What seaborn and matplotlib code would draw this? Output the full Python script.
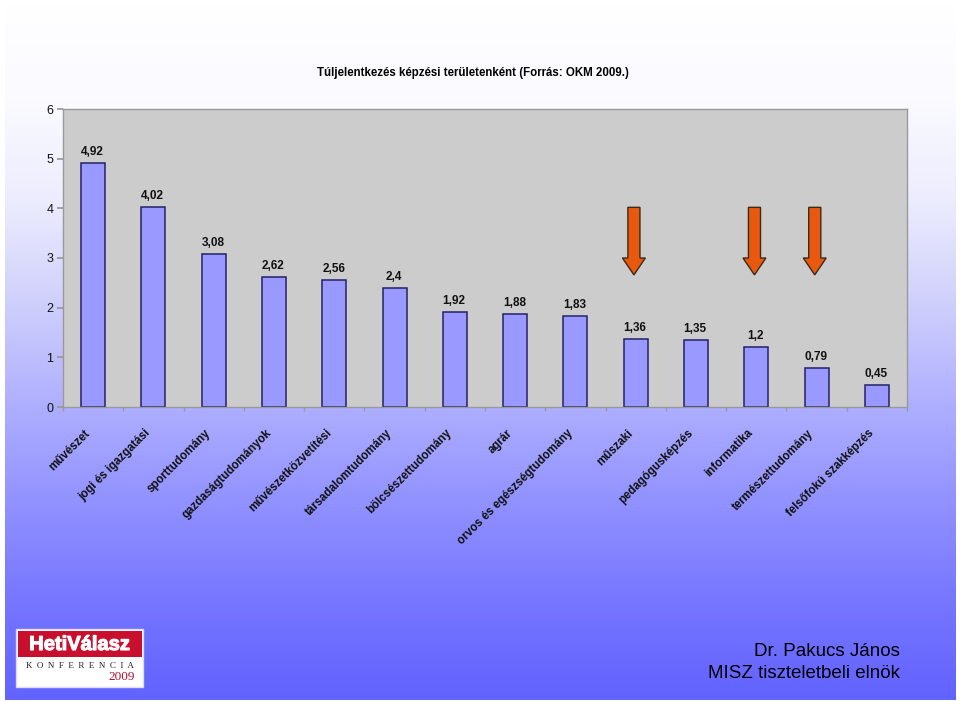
import numpy as np
import pandas as pd
import matplotlib
matplotlib.use("Agg")
import matplotlib.pyplot as plt
import matplotlib.patheffects as pe
from matplotlib.patches import Rectangle, FancyArrow
from matplotlib.transforms import ScaledTranslation
import seaborn as sns

categories = ["művészet", "jogi és igazgatási", "sporttudomány", "gazdaságtudományok",
              "művészetközvetítési", "társadalomtudomány", "bölcsészettudomány", "agrár",
              "orvos és egészségtudomány", "műszaki", "pedagógusképzés", "informatika",
              "természettudomány", "felsőfokú szakképzés"]
values = [4.92, 4.02, 3.08, 2.62, 2.56, 2.4, 1.92, 1.88, 1.83, 1.36, 1.35, 1.2, 0.79, 0.45]
labels = ["4,92", "4,02", "3,08", "2,62", "2,56", "2,4", "1,92", "1,88", "1,83",
          "1,36", "1,35", "1,2", "0,79", "0,45"]
arrow_cats = [9, 11, 12]
title = "Túljelentkezés képzési területenként (Forrás: OKM 2009.)"

sns.set_theme(style="white")
plt.rcParams['font.family'] = ['Liberation Sans', 'DejaVu Sans']

W, H = 960, 701
fig = plt.figure(figsize=(9.6, 7.01), dpi=100)
fig.patch.set_facecolor("white")


def fx(x):
    return x / W


def fy(y):
    return 1 - y / H


# background gradient panel
bg = fig.add_axes([fx(5), fy(700), fx(950), 695 / H], zorder=0)
ys = np.arange(5, 700)
stop_y = [5, 100, 200, 300, 400, 500, 600, 700]
stop_rg = [255, 250, 236, 208, 176, 146, 118, 98]
stop_b = [255, 255, 254, 252, 255, 255, 255, 255]
rg = np.interp(ys, stop_y, stop_rg) / 255
b = np.interp(ys, stop_y, stop_b) / 255
grad = np.stack([rg, rg, b], axis=1)[:, None, :]
bg.imshow(grad, aspect="auto", extent=[0, 1, 0, 1])
bg.axis("off")

ax = fig.add_axes([fx(63), fy(407), fx(844), 298 / H], zorder=1)
df = pd.DataFrame({"kat": categories, "ertek": values})
sns.barplot(data=df, x="kat", y="ertek", ax=ax, color="#9999FF", saturation=1,
            width=0.4, edgecolor="#222266", linewidth=1.1)
ax.set_facecolor("#CCCCCC")
ax.set_xlim(-0.5, 13.5)
ax.set_ylim(0, 6)
ax.set_xlabel("")
ax.set_ylabel("")
for s in ["right", "top", "left", "bottom"]:
    ax.spines[s].set_visible(True)
    ax.spines[s].set_color("#999999")
    ax.spines[s].set_linewidth(1.0)
ax.tick_params(axis="y", left=True, length=4, color="#999999", labelsize=9, pad=3,
               labelcolor="#111111")
ax.set_yticks(range(7))
ax.set_xticks(np.arange(-0.5, 14, 1), minor=True)
ax.tick_params(axis="x", which="minor", bottom=True, length=3, color="#999999")
ax.tick_params(axis="x", which="major", bottom=False, pad=8.5)
ax.set_xticks(range(len(categories)))
ax.set_xticklabels(categories, rotation=45, ha="right", rotation_mode="anchor",
                   fontsize=8.3, fontweight="bold", color="#111111")
shift = ScaledTranslation(-9 / 100, 0, fig.dpi_scale_trans)
for lab in ax.get_xticklabels():
    lab.set_transform(lab.get_transform() + shift)

for i, (v, s) in enumerate(zip(values, labels)):
    ax.annotate(s, (i, v), xytext=(-0.5, 8), textcoords="offset points", ha="center",
                va="center", fontsize=8.5, fontweight="bold", color="#111111")

for c in arrow_cats:
    ax.add_patch(FancyArrow(c - 0.03, 4.02, 0, -1.36, width=0.2, head_width=0.38,
                            head_length=0.34, length_includes_head=True,
                            facecolor="#E8590F", edgecolor="#3A2A1A", linewidth=1.0,
                            zorder=5))

fig.text(fx(473), fy(73), title, ha="center", va="center", fontsize=8.3,
         fontweight="bold", color="black", zorder=3)

# logo
fig.add_artist(Rectangle((fx(16), fy(687)), 127 / W, 58 / H, transform=fig.transFigure,
                         facecolor="white", edgecolor="#DDDDEE", linewidth=1, zorder=3))
fig.add_artist(Rectangle((fx(18), fy(657)), 123.5 / W, 26 / H, transform=fig.transFigure,
                         facecolor="#C8102E", edgecolor="none", zorder=4))
fig.text(fx(79.5), fy(644.5), "HetiVálasz", ha="center", va="center", color="white",
         fontsize=14.5, fontweight="bold", zorder=5,
         path_effects=[pe.withStroke(linewidth=0.8, foreground="white")])
fig.text(fx(80), fy(666), "K  O  N  F  E  R  E  N  C  I  A", ha="center", va="center",
         color="#222222", fontsize=6.5, family=["Liberation Serif"], zorder=5)
fig.text(fx(121.5), fy(677), "2009", ha="center", va="center", color="#B01030",
         fontsize=9.5, family=["Liberation Serif"], zorder=5)

fig.text(fx(900), fy(652), "Dr. Pakucs János", ha="right", va="center", fontsize=13.5,
         color="black", zorder=5)
fig.text(fx(900), fy(674), "MISZ tiszteletbeli elnök", ha="right", va="center",
         fontsize=13.5, color="black", zorder=5)

fig.savefig("out.png", dpi=100, facecolor="white")
